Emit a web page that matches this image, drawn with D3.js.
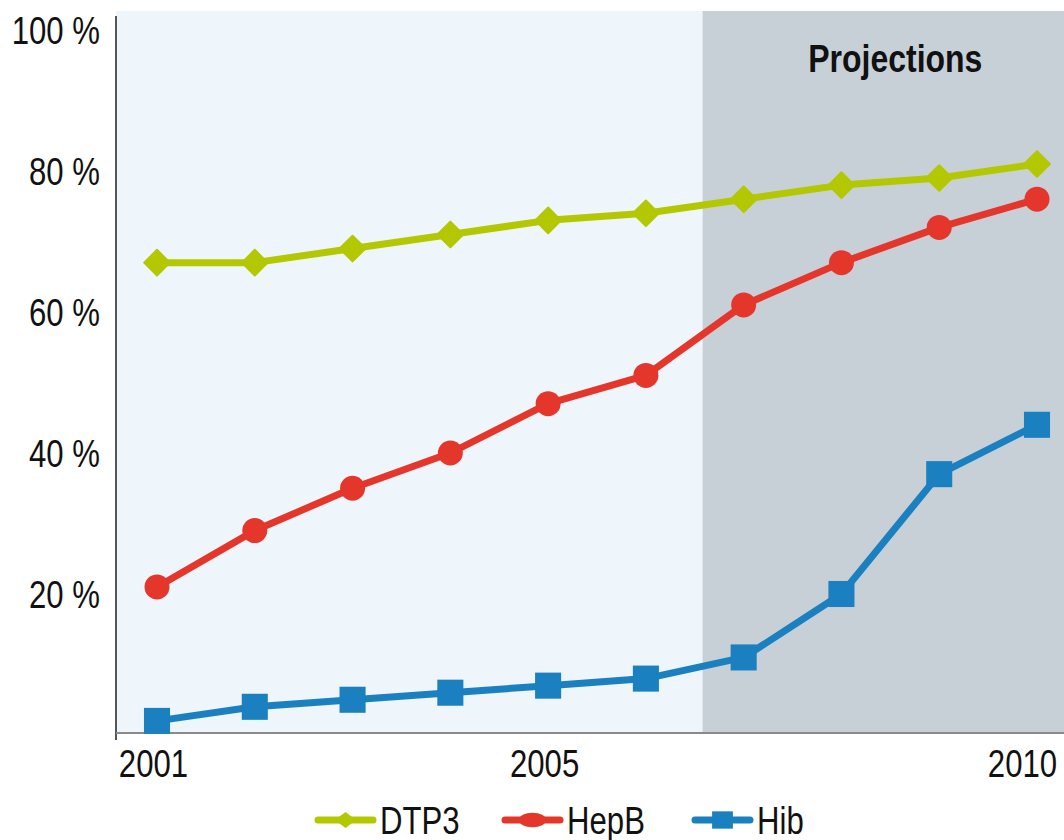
<!DOCTYPE html>
<html>
<head>
<meta charset="utf-8">
<script src="https://cdn.jsdelivr.net/npm/d3@7"></script>
<style>
  html, body { margin: 0; padding: 0; background: #fff; }
  svg { display: block; }
  text { font-family: "Liberation Sans", Arial, Helvetica, sans-serif; fill: #111; }
</style>
</head>
<body>
<svg id="chart" width="1064" height="840"></svg>
<script>
// Immunisation coverage, 2001–2010 (2007 onward are projections)
const years = [2001, 2002, 2003, 2004, 2005, 2006, 2007, 2008, 2009, 2010];
const dtp3 = [67, 67, 69, 71, 73, 74, 76, 78, 79, 81];
const hepB = [21, 29, 35, 40, 47, 51, 61, 67, 72, 76];
const hib  = [2, 4, 5, 6, 7, 8, 11, 20, 37, 44];
const yTicks = [20, 40, 60, 80, 100];
const xTickLabels = [2001, 2005, 2010];
const projectionStart = 2006.58;
const projectionLabel = "Projections";
const seriesNames = ["DTP3", "HepB", "Hib"];
const seriesColors = ["#b3c800", "#e5362c", "#1a80bf"];

const svg = d3.select("#chart");
const W = 1064, H = 840;
const NARROW = 0.82; // horizontal squeeze applied to all lettering

const x = d3.scaleLinear().domain([2001, 2010]).range([157, 1037]);
const y = d3.scaleLinear().domain([0, 100]).range([735, 30]);

const plotLeft = 116, plotTop = 11, plotBottom = 733;
const xMin = x.invert(plotLeft), xMax = x.invert(W);

// Plot background: historical and projected regions
svg.append("rect")
  .attr("x", x(xMin)).attr("y", plotTop)
  .attr("width", x(projectionStart) - x(xMin)).attr("height", plotBottom - plotTop)
  .attr("fill", "#eef6fc");
svg.append("rect")
  .attr("x", x(projectionStart)).attr("y", plotTop)
  .attr("width", x(xMax) - x(projectionStart)).attr("height", plotBottom - plotTop)
  .attr("fill", "#c8d0d7");

svg.append("text")
  .attr("transform", `translate(${(x(projectionStart) + W) / 2 + 12},72) scale(${NARROW},1)`)
  .attr("text-anchor", "middle")
  .style("font-size", "39px").style("font-weight", "bold")
  .text(projectionLabel);

// Y axis
const yAxis = d3.axisLeft(y).tickValues(yTicks).tickSize(0).tickPadding(0)
  .tickFormat(d => d + " %");
const gy = svg.append("g").attr("transform", `translate(${plotLeft},0)`).call(yAxis);
gy.select(".domain").remove();
gy.selectAll(".tick text")
  .attr("x", null)
  .attr("transform", `translate(-16,0) scale(${NARROW},1)`)
  .attr("dy", "0.36em")
  .attr("fill", "#111")
  .style("font-size", "38px")
  .style("font-family", "\"Liberation Sans\", Arial, sans-serif");
svg.append("line")
  .attr("x1", plotLeft).attr("x2", plotLeft).attr("y1", 16).attr("y2", 740)
  .attr("stroke", "#555").attr("stroke-width", 2);

// X axis
const xAxis = d3.axisBottom(x).tickValues(xTickLabels).tickSize(0).tickPadding(0)
  .tickFormat(d3.format("d"));
const gx = svg.append("g").attr("transform", `translate(0,${plotBottom})`).call(xAxis);
gx.select(".domain").remove();
gx.selectAll(".tick text")
  .attr("y", null).attr("dy", null)
  .attr("transform", d => `translate(${d === 2010 ? -15 : -4},44) scale(${NARROW},1)`)
  .attr("fill", "#111")
  .style("font-size", "38px")
  .style("font-family", "\"Liberation Sans\", Arial, sans-serif");
svg.append("line")
  .attr("x1", plotLeft).attr("x2", W).attr("y1", plotBottom).attr("y2", plotBottom)
  .attr("stroke", "#8a8a8a").attr("stroke-width", 2);

// Series
const seriesData = [dtp3, hepB, hib];
const line = d3.line().x((d, i) => x(years[i])).y(d => y(d));

const markers = [
  d3.symbol().type(d3.symbolSquare).size(330),   // drawn rotated 45° as a diamond
  d3.symbol().type(d3.symbolCircle).size(490),
  d3.symbol().type(d3.symbolSquare).size(680)
];

seriesData.forEach((vals, s) => {
  svg.append("path").datum(vals)
    .attr("d", line)
    .attr("fill", "none")
    .attr("stroke", seriesColors[s])
    .attr("stroke-width", 7)
    .attr("stroke-linejoin", "round");
  svg.selectAll(null).data(vals).enter().append("path")
    .attr("transform", (d, i) => `translate(${x(years[i])},${y(d)})` + (s === 0 ? " rotate(45)" : ""))
    .attr("d", markers[s]())
    .attr("fill", seriesColors[s])
    .attr("stroke", seriesColors[s])
    .attr("stroke-width", s === 0 ? 2 : 0)
    .attr("stroke-linejoin", "round");
});

// Legend
const legendX = [318, 505, 695];
const legendY = 820;
const legendMarks = [
  { sym: d3.symbol().type(d3.symbolSquare).size(130), tf: "scale(1.3,1) rotate(45)" },
  { sym: d3.symbol().type(d3.symbolCircle).size(300), tf: "scale(1.4,0.75)" },
  { sym: d3.symbol().type(d3.symbolSquare).size(300), tf: "scale(1.2,1)" }
];
seriesNames.forEach((name, s) => {
  const g = svg.append("g").attr("transform", `translate(${legendX[s]},${legendY})`);
  g.append("line").attr("x1", 0).attr("x2", 55).attr("y1", 0).attr("y2", 0)
    .attr("stroke", seriesColors[s]).attr("stroke-width", 7).attr("stroke-linecap", "round");
  g.append("path").attr("transform", "translate(27.5,0) " + legendMarks[s].tf)
    .attr("d", legendMarks[s].sym()).attr("fill", seriesColors[s]);
  g.append("text")
    .attr("transform", `translate(62,0) scale(${NARROW},1)`)
    .attr("dy", "0.36em")
    .style("font-size", "38px").text(name);
});
</script>
</body>
</html>
